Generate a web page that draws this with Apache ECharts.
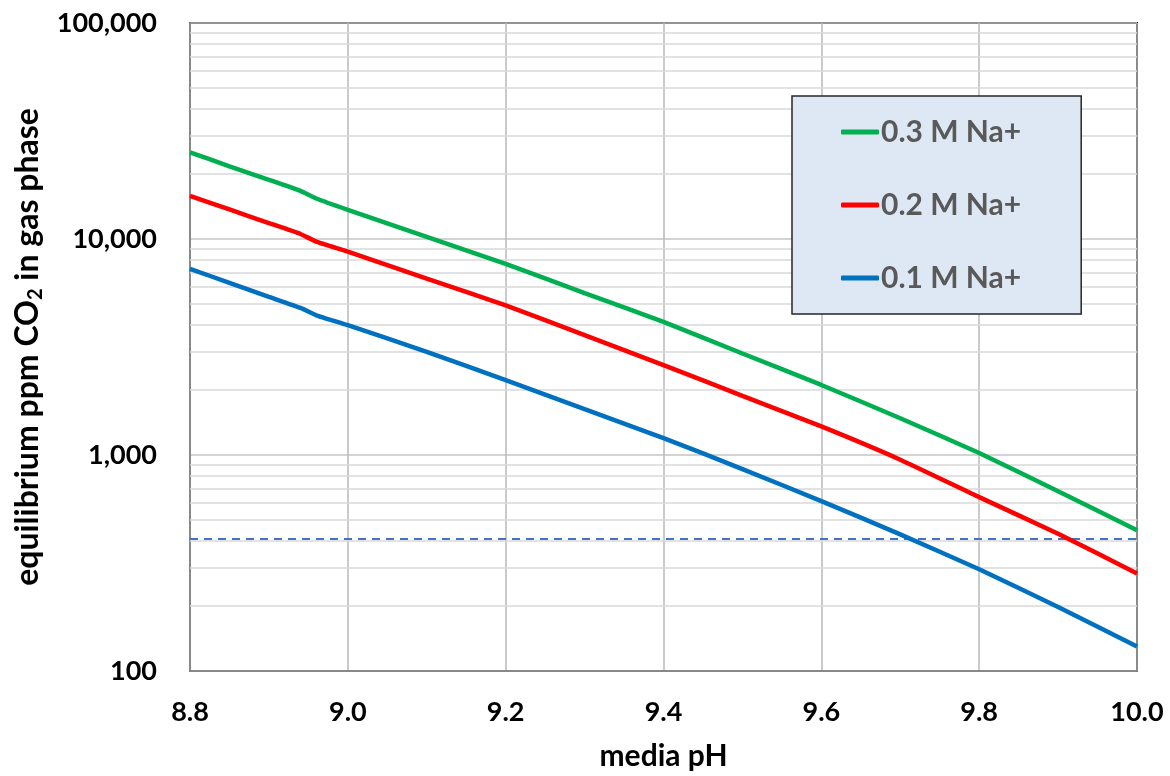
<!DOCTYPE html>
<html>
<head>
<meta charset="utf-8">
<script src="https://cdn.jsdelivr.net/npm/echarts@6/dist/echarts.min.js"></script>
<style>
html,body{margin:0;padding:0;background:#fff;}
#chart{width:1170px;height:776px;}
</style>
</head>
<body>
<div id="chart"></div>
<script>
const pH = [8.80, 8.85, 8.90, 8.94, 8.96, 9.00, 9.10, 9.20, 9.30, 9.40, 9.50, 9.60, 9.70, 9.80, 9.90, 10.00];
const na03 = [25200, 21700, 18800, 16700, 15400, 13650, 10230, 7670, 5620, 4130, 2950, 2110, 1480, 1021, 680, 448];
const na02 = [15840, 13700, 11850, 10550, 9720, 8740, 6560, 4930, 3590, 2607, 1880, 1356, 951, 638, 432, 283];
const na01 = [7270, 6270, 5400, 4795, 4435, 3990, 3003, 2222, 1630, 1198, 861, 612, 429, 296, 198, 130];
const seriesNames = ['0.3 M Na+', '0.2 M Na+', '0.1 M Na+'];
const atmosphericCO2 = 410;
const minorGridValues = [200,300,400,500,600,700,800,900,2000,3000,4000,5000,6000,7000,8000,9000,20000,30000,40000,50000,60000,70000,80000,90000];

const FONT = 'Lato, "Open Sans", sans-serif';
const toPairs = arr => pH.map((x, i) => [x, arr[i]]);

const chart = echarts.init(document.getElementById('chart'));
chart.setOption({
  animation: false,
  backgroundColor: '#fff',
  grid: {left: 190, right: 33, top: 23, bottom: 102, show: true, borderColor: '#000', borderWidth: 2, backgroundColor: 'transparent'},
  legend: {
    orient: 'vertical',
    left: 792, top: 96,
    zlevel: 1, z: 10,
    data: seriesNames,
    backgroundColor: '#DEE8F4',
    borderColor: '#262626',
    borderWidth: 1.5,
    padding: [21, 60, 21, 49],
    itemGap: 43,
    itemWidth: 38,
    itemHeight: 5,
    icon: 'roundRect',
    textStyle: {fontFamily: FONT, fontWeight: 'bold', fontSize: 30, lineHeight: 30, color: '#595959', padding: [0,0,0,-3]}
  },
  xAxis: {
    type: 'value', min: 8.8, max: 10.0, interval: 0.2,
    name: 'media pH', nameLocation: 'middle', nameGap: 70,
    nameTextStyle: {fontFamily: FONT, fontWeight: 'bold', fontSize: 30, color: '#000'},
    axisLine: {lineStyle: {color: '#888', width: 2}},
    axisTick: {show: false},
    axisLabel: {fontFamily: FONT, fontWeight: 'bold', fontSize: 27, color: '#000', margin: 28, formatter: v => v.toFixed(1)},
    splitLine: {show: true, lineStyle: {color: '#b8b8b8', width: 1.5}}
  },
  yAxis: {
    type: 'log', logBase: 10, min: 100, max: 100000,
    name: '{a|equilibrium ppm CO}{s|2}{a| in gas phase}',
    nameLocation: 'middle', nameGap: 140, nameRotate: 90,
    nameTextStyle: {
      rich: {
        a: {fontFamily: FONT, fontWeight: 'bold', fontSize: 32, color: '#000', lineHeight: 36},
        s: {fontFamily: FONT, fontWeight: 'bold', fontSize: 20, color: '#000', verticalAlign: 'bottom', lineHeight: 36, padding: [12, 0, 0, 0]}
      }
    },
    axisLine: {show: true, lineStyle: {color: '#888', width: 2}},
    axisTick: {show: false},
    axisLabel: {fontFamily: FONT, fontWeight: 'bold', fontSize: 27, color: '#000', margin: 33,
      formatter: v => Math.round(v).toLocaleString('en-US')},
    splitLine: {show: true, lineStyle: {color: '#c4c4c4', width: 1.5}}
  },
  series: [
    {
      name: '__grid', type: 'line', data: [], silent: true,
      markLine: {
        silent: true, symbol: 'none', label: {show: false},
        lineStyle: {color: '#d9d9d9', width: 1.5, type: 'solid'},
        data: minorGridValues.map(v => ({yAxis: v}))
      },
      z: 1
    },
    {
      name: seriesNames[0], type: 'line', data: toPairs(na03), showSymbol: false, smooth: 0.15,
      lineStyle: {color: '#00B050', width: 4.5}, itemStyle: {color: '#00B050'}, z: 5
    },
    {
      name: seriesNames[1], type: 'line', data: toPairs(na02), showSymbol: false, smooth: 0.15,
      lineStyle: {color: '#FF0000', width: 4.5}, itemStyle: {color: '#FF0000'}, z: 5
    },
    {
      name: seriesNames[2], type: 'line', data: toPairs(na01), showSymbol: false, smooth: 0.15,
      lineStyle: {color: '#0070C0', width: 4.5}, itemStyle: {color: '#0070C0'}, z: 5,
      markLine: {
        silent: true, symbol: 'none', label: {show: false},
        lineStyle: {color: '#4472C4', width: 2, type: [8, 6]},
        data: [{yAxis: atmosphericCO2}]
      }
    }
  ]
});
</script>
</body>
</html>
